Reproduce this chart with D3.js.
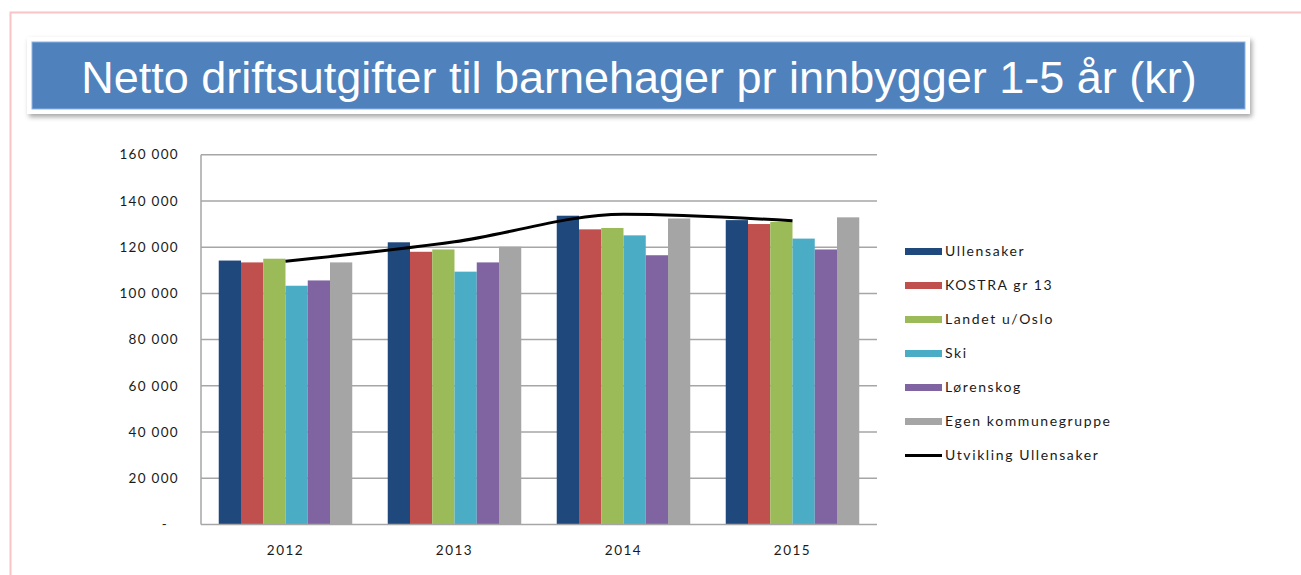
<!DOCTYPE html>
<html>
<head>
<meta charset="utf-8">
<script src="https://cdn.jsdelivr.net/npm/d3@7"></script>
<style>
  body { margin: 0; background: #fff; }
  svg text { font-family: Lato, "Open Sans", sans-serif; }
</style>
</head>
<body>
<div id="chart"></div>
<script>
const years = ["2012", "2013", "2014", "2015"];
const seriesNames = ["Ullensaker", "KOSTRA gr 13", "Landet u/Oslo", "Ski", "Lørenskog", "Egen kommunegruppe"];
const ullensaker = [114200, 122100, 133600, 131700];
const kostra13 = [113400, 118000, 127700, 130000];
const landet = [115000, 119000, 128300, 130900];
const ski = [103300, 109400, 125100, 123700];
const lorenskog = [105600, 113400, 116500, 119000];
const egenGruppe = [113400, 120200, 132400, 132900];
const utvikling = [113900, 122300, 134200, 131400];
const lineName = "Utvikling Ullensaker";
const yTicks = [0, 20000, 40000, 60000, 80000, 100000, 120000, 140000, 160000];
const titleText = "Netto driftsutgifter til barnehager pr innbygger 1-5 år (kr)";

const seriesValues = [ullensaker, kostra13, landet, ski, lorenskog, egenGruppe];
const colors = ["#1F497D", "#C0504D", "#9BBB59", "#4BACC6", "#8064A2", "#A5A5A5"];

const width = 1301, height = 575;
const plot = {left: 201, right: 877, top: 154.7, bottom: 524.5};

const svg = d3.select("#chart")
  .append("svg")
  .attr("width", width)
  .attr("height", height);

// shadow for the title frame
const defs = svg.append("defs");
const shadow = defs.append("filter").attr("id", "shadow")
  .attr("x", "-5%").attr("y", "-30%").attr("width", "110%").attr("height", "160%");
shadow.append("feDropShadow")
  .attr("dx", 2).attr("dy", 3).attr("stdDeviation", 2.5)
  .attr("flood-color", "#000").attr("flood-opacity", 0.35);

// pink page frame
svg.append("path")
  .attr("d", `M10.5,${height} V12.5 H${width}`)
  .attr("fill", "none")
  .attr("stroke", "#F7C4C8")
  .attr("stroke-width", 2);

// title
svg.append("rect")
  .attr("x", 27).attr("y", 37).attr("width", 1223).attr("height", 77)
  .attr("fill", "#fff")
  .attr("filter", "url(#shadow)");
svg.append("rect")
  .attr("x", 32).attr("y", 42).attr("width", 1213).attr("height", 67)
  .attr("fill", "#4F81BD")
  .attr("stroke", "#8DB3E2")
  .attr("stroke-width", 1);
svg.append("text")
  .attr("x", 639).attr("y", 77)
  .attr("text-anchor", "middle")
  .attr("dominant-baseline", "central")
  .style("font-family", "'Liberation Sans', Arial, sans-serif")
  .style("font-size", "45px")
  .attr("fill", "#fff")
  .text(titleText);

const x = d3.scaleBand()
  .domain(years)
  .range([plot.left, plot.right])
  .paddingInner(0.21)
  .paddingOuter(0.105);

const xSeries = d3.scaleBand()
  .domain(seriesNames)
  .range([0, x.bandwidth()]);

const y = d3.scaleLinear()
  .domain([0, 160000])
  .range([plot.bottom, plot.top]);

// gridlines
svg.append("g")
  .selectAll("line")
  .data(yTicks.filter(d => d > 0))
  .join("line")
  .attr("x1", plot.left).attr("x2", plot.right)
  .attr("y1", d => y(d)).attr("y2", d => y(d))
  .attr("stroke", "#A6A6A6")
  .attr("stroke-width", 1.5);

// y axis labels
const fmt = d => d === 0 ? "-" : d3.format(",")(d).replace(/,/g, " ");
svg.append("g")
  .selectAll("text")
  .data(yTicks)
  .join("text")
  .attr("x", d => d === 0 ? 168 : 179)
  .attr("y", d => y(d))
  .attr("dy", "0.35em")
  .attr("text-anchor", "end")
  .style("font-size", "13.5px")
  .style("letter-spacing", "1.3px")
  .attr("fill", "#1a1a1a")
  .text(fmt);

// bars
const groups = svg.append("g")
  .selectAll("g")
  .data(years)
  .join("g")
  .attr("transform", d => `translate(${x(d)},0)`);

groups.selectAll("rect")
  .data((yr, i) => seriesNames.map((s, k) => ({s, k, v: seriesValues[k][i]})))
  .join("rect")
  .attr("x", d => xSeries(d.s))
  .attr("width", xSeries.bandwidth())
  .attr("y", d => y(d.v))
  .attr("height", d => y(0) - y(d.v))
  .attr("fill", d => colors[d.k]);

// axis lines
svg.append("line")
  .attr("x1", plot.left).attr("x2", plot.left)
  .attr("y1", y(160000)).attr("y2", y(0))
  .attr("stroke", "#A6A6A6").attr("stroke-width", 1.5);
svg.append("line")
  .attr("x1", plot.left).attr("x2", plot.right)
  .attr("y1", y(0)).attr("y2", y(0))
  .attr("stroke", "#A6A6A6").attr("stroke-width", 1.5);

// x labels
svg.append("g")
  .selectAll("text")
  .data(years)
  .join("text")
  .attr("x", d => x(d) + x.bandwidth() / 2)
  .attr("y", 550)
  .attr("dy", "0.35em")
  .attr("text-anchor", "middle")
  .style("font-size", "13.5px")
  .style("letter-spacing", "1.5px")
  .attr("fill", "#1a1a1a")
  .text(d => d);

// line
const line = d3.line()
  .x((d, i) => x(years[i]) + x.bandwidth() / 2)
  .y(d => y(d))
  .curve(d3.curveMonotoneX);
svg.append("path")
  .datum(utvikling)
  .attr("d", line)
  .attr("fill", "none")
  .attr("stroke", "#000")
  .attr("stroke-width", 3);

// legend
const legendItems = seriesNames.concat([lineName]);
const legend = svg.append("g")
  .selectAll("g")
  .data(legendItems)
  .join("g")
  .attr("transform", (d, i) => `translate(905, ${251.5 + i * 34})`);

legend.filter((d, i) => i < seriesNames.length)
  .append("rect")
  .attr("x", 0).attr("y", -3.5)
  .attr("width", 37).attr("height", 7)
  .attr("fill", (d, i) => colors[i]);

legend.filter((d, i) => i === seriesNames.length)
  .append("line")
  .attr("x1", 0).attr("x2", 37)
  .attr("stroke", "#000").attr("stroke-width", 3);

legend.append("text")
  .attr("x", 40)
  .attr("dy", "0.35em")
  .style("font-size", "14px")
  .style("letter-spacing", "1.6px")
  .attr("fill", "#1a1a1a")
  .text(d => d);
</script>
</body>
</html>
